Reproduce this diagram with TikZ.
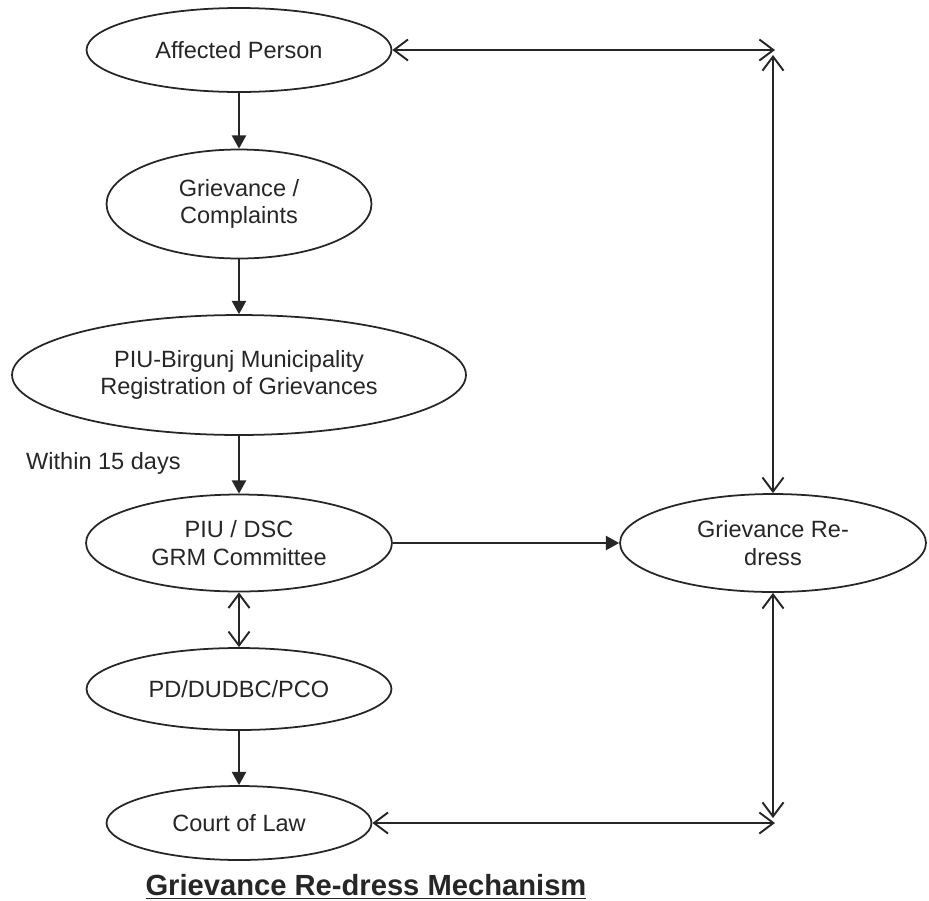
\documentclass[tikz,border=0pt]{standalone}
\usepackage{fontspec}
\setmainfont{Liberation Sans}
\usetikzlibrary{shapes.geometric,arrows.meta}

\begin{document}
\begin{tikzpicture}[x=0.02cm, y=-0.02cm,
  bubble/.style={draw, ellipse, line width=1pt, inner sep=0pt, align=center,
    font=\fontsize{13.4}{15.5}\selectfont},
  oneway/.style={line width=1.1pt, -{Triangle[length=7.5pt, width=8pt]}},
  twoway/.style={line width=1.1pt, {Straight Barb[length=8pt, width=12pt]}-{Straight Barb[length=8pt, width=12pt]}}]
  \useasboundingbox (0,0) rectangle (929,900);
  \begin{scope}[black!85]

  % left column
  \node[bubble, minimum width=6.1cm,  minimum height=1.68cm] (affected)  at (239,50)  {Affected Person};
  \node[bubble, minimum width=5.3cm,  minimum height=2.18cm] (complaint) at (239,204) {Grievance /\\Complaints};
  \node[bubble, minimum width=9.08cm, minimum height=2.4cm]  (register)  at (239,375) {PIU-Birgunj Municipality\\Registration of Grievances};
  \node[bubble, minimum width=6.12cm, minimum height=1.94cm] (committee) at (239,543) {PIU / DSC\\GRM Committee};
  \node[bubble, minimum width=6.1cm,  minimum height=1.64cm] (pd)        at (239,689) {PD/DUDBC/PCO};
  \node[bubble, minimum width=5.3cm,  minimum height=1.48cm] (court)     at (239,823) {Court of Law};

  % right side
  \node[bubble, minimum width=6.12cm, minimum height=1.96cm] (redress)   at (773,543) {Grievance Re-\\dress};

  \node[anchor=west, font=\fontsize{13.4}{15.5}\selectfont] (within) at (20,463) {Within 15 days};
  \node[font=\fontsize{16.6}{19}\selectfont\bfseries] (title) at (366,887) {\underline{Grievance Re-dress Mechanism}};

  \coordinate (tr) at (775,50);
  \coordinate (br) at (775,823);
  \coordinate (trv) at (773,55);
  \coordinate (brv) at (773,818);

  \draw[oneway] (affected) -- (complaint);
  \draw[oneway] (complaint) -- (register);
  \draw[oneway] (register) -- (committee);
  \draw[twoway] (committee) -- (pd);
  \draw[oneway] (pd) -- (court);
  \draw[oneway] (committee) -- (redress);

  \draw[twoway] (affected) -- (tr);
  \draw[twoway] (court) -- (br);
  \draw[twoway] (trv) -- (redress);
  \draw[twoway] (redress) -- (brv);
  \end{scope}
\end{tikzpicture}
\end{document}
